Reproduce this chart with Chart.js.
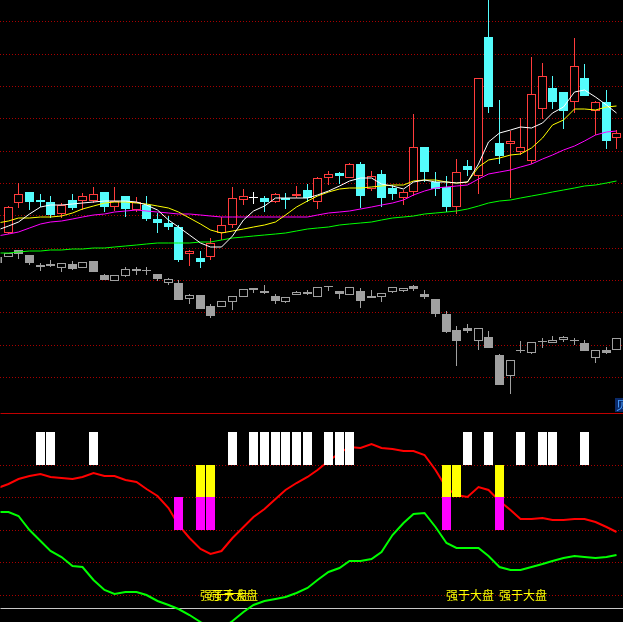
<!DOCTYPE html>
<html lang="zh">
<head>
<meta charset="UTF-8">
<title>K线 强于大盘</title>
<script src="https://cdn.jsdelivr.net/npm/chart.js@4.4.0/dist/chart.umd.min.js"></script>
<style>
  html, body { margin: 0; padding: 0; background: #000; overflow: hidden; }
  canvas { display: block; }
</style>
</head>
<body>
<canvas id="priceChart" width="623" height="413"></canvas>
<canvas id="indChart" width="623" height="209"></canvas>
<script>
// trading days, -1 is the half-visible bar at the left edge
const days = Array.from({length: 59}, (_, k) => k - 1);

// stock candles (no data for day -1)
const stockOpen  = [null, 12.67, 12.97, 13.08, 13.00, 12.98, 12.86, 13.00, 12.99, 12.99, 13.08, 12.93, 13.04, 12.90, 12.95, 12.81, 12.77, 12.73, 12.46, 12.42, 12.43, 12.67, 12.75, 13.00, 13.02, 13.02, 12.98, 13.02, 13.04, 13.10, 12.98, 13.22, 13.27, 13.22, 13.36, 13.11, 13.26, 13.12, 13.02, 13.08, 13.53, 13.18, 13.13, 12.93, 13.34, 13.24, 14.63, 13.57, 13.56, 13.48, 13.39, 13.91, 14.12, 14.08, 13.98, 14.22, 13.89, 13.98, 13.62];
const stockHigh  = [null, 12.94, 13.17, 13.08, 13.06, 13.04, 12.97, 13.06, 13.07, 13.13, 13.08, 13.13, 13.04, 13.03, 13.04, 12.87, 12.84, 12.75, 12.50, 12.49, 12.62, 12.83, 13.13, 13.11, 13.08, 13.04, 13.07, 13.07, 13.14, 13.16, 13.23, 13.29, 13.28, 13.37, 13.38, 13.29, 13.30, 13.15, 13.10, 13.86, 13.53, 13.28, 13.24, 13.41, 13.40, 14.22, 15.05, 14.00, 13.69, 13.82, 14.43, 14.37, 14.24, 14.08, 14.62, 14.36, 13.99, 14.10, 13.70];
const stockLow   = [null, 12.66, 12.92, 12.90, 12.93, 12.82, 12.82, 12.90, 12.90, 12.97, 12.88, 12.89, 12.83, 12.88, 12.79, 12.67, 12.70, 12.38, 12.34, 12.32, 12.40, 12.60, 12.72, 12.95, 12.96, 12.88, 12.97, 12.91, 13.02, 12.98, 12.91, 13.15, 13.16, 13.22, 12.92, 13.09, 12.93, 13.00, 12.95, 13.04, 13.18, 13.04, 12.88, 12.86, 13.24, 13.06, 13.87, 13.36, 13.02, 13.45, 13.36, 13.81, 13.91, 13.71, 13.87, 14.04, 13.65, 13.51, 13.51];
const stockClose = [null, 12.93, 13.06, 12.98, 12.98, 12.85, 12.95, 12.92, 13.04, 13.06, 12.93, 12.99, 12.91, 12.98, 12.81, 12.77, 12.73, 12.40, 12.49, 12.38, 12.57, 12.75, 13.02, 13.04, 13.02, 12.98, 13.06, 13.00, 13.06, 13.02, 13.22, 13.26, 13.24, 13.36, 13.04, 13.24, 13.02, 13.06, 13.08, 13.53, 13.28, 13.11, 12.93, 13.28, 13.30, 14.22, 13.93, 13.44, 13.59, 13.53, 14.06, 14.24, 13.98, 13.89, 14.34, 14.04, 13.98, 13.59, 13.67];

// market index candles (grey overlay)
const indexOpen  = [12.43, 12.43, 12.50, 12.45, 12.35, 12.36, 12.32, 12.36, 12.32, 12.39, 12.25, 12.19, 12.24, 12.31, 12.29, 12.26, 12.17, 12.17, 12.01, 12.05, 11.94, 11.93, 11.98, 12.03, 12.12, 12.09, 12.04, 11.98, 12.05, 12.08, 12.03, 12.13, 12.09, 12.05, 12.09, 12.04, 12.03, 12.08, 12.09, 12.14, 12.06, 12.01, 11.86, 11.70, 11.72, 11.59, 11.63, 11.45, 11.24, 11.49, 11.47, 11.58, 11.57, 11.60, 11.59, 11.57, 11.42, 11.50, 11.50];
const indexHigh  = [12.43, 12.47, 12.50, 12.45, 12.37, 12.40, 12.37, 12.39, 12.38, 12.39, 12.26, 12.25, 12.33, 12.33, 12.33, 12.26, 12.22, 12.20, 12.06, 12.05, 11.96, 11.99, 12.04, 12.11, 12.12, 12.15, 12.06, 12.03, 12.09, 12.10, 12.13, 12.13, 12.09, 12.13, 12.12, 12.10, 12.07, 12.13, 12.12, 12.15, 12.10, 12.01, 11.89, 11.74, 11.76, 11.72, 11.69, 11.46, 11.40, 11.59, 11.58, 11.62, 11.64, 11.64, 11.62, 11.60, 11.50, 11.53, 11.62];
const indexLow   = [12.37, 12.43, 12.41, 12.35, 12.29, 12.33, 12.28, 12.30, 12.32, 12.28, 12.20, 12.19, 12.23, 12.25, 12.25, 12.19, 12.15, 12.00, 11.96, 11.91, 11.82, 11.93, 11.90, 12.03, 12.07, 12.06, 11.96, 11.97, 12.05, 12.05, 12.03, 12.09, 12.01, 12.05, 11.92, 12.02, 11.98, 12.07, 12.08, 12.09, 12.01, 11.83, 11.67, 11.34, 11.67, 11.50, 11.52, 11.15, 11.06, 11.47, 11.46, 11.52, 11.57, 11.58, 11.55, 11.49, 11.37, 11.46, 11.50];
const indexClose = [12.37, 12.47, 12.46, 12.37, 12.33, 12.34, 12.37, 12.31, 12.38, 12.28, 12.20, 12.25, 12.31, 12.29, 12.29, 12.21, 12.21, 12.00, 12.05, 11.91, 11.84, 11.99, 12.04, 12.11, 12.10, 12.07, 11.99, 12.03, 12.08, 12.06, 12.13, 12.13, 12.06, 12.13, 11.99, 12.02, 12.07, 12.13, 12.12, 12.11, 12.03, 11.86, 11.68, 11.59, 11.69, 11.72, 11.52, 11.15, 11.40, 11.49, 11.58, 11.58, 11.60, 11.63, 11.59, 11.49, 11.50, 11.47, 11.62];

// moving averages
const ma5  = [12.70, 12.74, 12.78, 12.86, 12.93, 12.95, 12.95, 12.96, 12.97, 12.98, 12.99, 12.99, 12.99, 12.98, 12.95, 12.90, 12.80, 12.73, 12.65, 12.57, 12.53, 12.53, 12.64, 12.80, 12.89, 12.94, 13.02, 13.02, 13.02, 13.02, 13.05, 13.09, 13.14, 13.19, 13.22, 13.22, 13.16, 13.14, 13.11, 13.18, 13.20, 13.18, 13.18, 13.17, 13.18, 13.36, 13.58, 13.67, 13.70, 13.73, 13.72, 13.77, 13.87, 13.93, 14.08, 14.10, 14.03, 13.95, 13.87];
const ma10 = [12.77, 12.79, 12.82, 12.82, 12.83, 12.83, 12.84, 12.87, 12.91, 12.94, 12.97, 12.98, 12.98, 12.97, 12.96, 12.94, 12.92, 12.88, 12.82, 12.76, 12.70, 12.67, 12.69, 12.71, 12.73, 12.75, 12.78, 12.85, 12.93, 12.99, 13.04, 13.08, 13.11, 13.12, 13.12, 13.13, 13.14, 13.15, 13.15, 13.19, 13.20, 13.20, 13.18, 13.17, 13.18, 13.33, 13.40, 13.42, 13.45, 13.46, 13.52, 13.62, 13.75, 13.80, 13.91, 13.91, 13.90, 13.93, 13.94];
const ma20 = [12.64, 12.66, 12.68, 12.72, 12.76, 12.78, 12.79, 12.81, 12.83, 12.85, 12.86, 12.88, 12.89, 12.90, 12.89, 12.88, 12.87, 12.86, 12.86, 12.85, 12.84, 12.83, 12.83, 12.83, 12.83, 12.83, 12.83, 12.83, 12.83, 12.83, 12.85, 12.87, 12.88, 12.89, 12.91, 12.93, 12.95, 12.97, 13.00, 13.05, 13.09, 13.12, 13.13, 13.14, 13.15, 13.21, 13.26, 13.28, 13.30, 13.33, 13.36, 13.41, 13.45, 13.50, 13.54, 13.59, 13.65, 13.68, 13.69];
const ma60 = [12.47, 12.47, 12.48, 12.49, 12.49, 12.50, 12.50, 12.51, 12.51, 12.52, 12.52, 12.53, 12.54, 12.55, 12.56, 12.57, 12.57, 12.57, 12.57, 12.58, 12.58, 12.60, 12.62, 12.63, 12.64, 12.65, 12.66, 12.67, 12.69, 12.71, 12.72, 12.73, 12.75, 12.76, 12.77, 12.78, 12.80, 12.82, 12.83, 12.84, 12.86, 12.87, 12.88, 12.89, 12.91, 12.94, 12.97, 12.99, 13.00, 13.02, 13.04, 13.06, 13.08, 13.10, 13.12, 13.14, 13.15, 13.17, 13.19];

// indicator panel
const relLine   = [85.8, 88.3, 91.4, 93.2, 94.5, 92.6, 92.0, 91.4, 92.6, 95.1, 93.2, 93.2, 90.8, 89.5, 85.2, 80.9, 73.5, 63.1, 55.1, 48.3, 45.2, 47.1, 55.1, 61.8, 68.0, 72.9, 79.1, 84.6, 88.9, 92.6, 96.9, 102.5, 107.4, 111.1, 110.5, 112.9, 110.5, 109.8, 108.6, 108.6, 106.2, 96.9, 85.8, 81.5, 80.3, 86.5, 84.6, 77.8, 72.3, 66.8, 66.8, 67.4, 66.2, 66.2, 66.8, 66.8, 64.9, 61.8, 58.8];
const trendLine = [71.1, 71.1, 68.6, 60.0, 53.2, 47.1, 43.4, 38.0, 37.2, 29.2, 23.1, 20.6, 21.8, 21.8, 20.0, 16.3, 13.8, 11.4, 7.7, 3.4, -0.3, -0.9, 4.0, 9.5, 13.8, 16.3, 17.5, 18.8, 21.2, 24.3, 29.2, 34.2, 36.6, 40.9, 40.9, 42.2, 46.5, 56.9, 64.3, 70.0, 70.5, 61.8, 52.0, 48.9, 48.9, 48.9, 44.0, 37.2, 35.4, 35.4, 37.2, 39.1, 40.9, 42.8, 44.0, 43.4, 42.8, 43.4, 44.6];
const whiteBarDays   = [3, 4, 8, 21, 23, 24, 25, 26, 27, 28, 30, 31, 32, 43, 45, 48, 50, 51, 54];
const yellowBarDays  = [18, 19, 41, 42, 46];
const magentaBarDays = [16, 18, 19, 41, 46];
const textDays       = [18, 19, 41, 46];
const whiteBand = [100, 120], yellowBand = [80, 100], magentaBand = [60, 80];
const labelText = '强于大盘', labelLevel = 20, refLevel = 12;

// grid levels
const priceGrid = [14.79, 14.46, 14.14, 13.82, 13.49, 13.17, 12.85, 12.52, 12.20, 11.88, 11.55, 11.23];
const indGrid = [100, 80, 60, 40, 20];

const GRID_RED = '#a80000';
const xScale = { type: 'linear', min: -0.702, max: 57.61, display: false, offset: false, alignToPixels: true };

function yScale(min, max, grid) {
    return {
        min: min, max: max, alignToPixels: true,
        ticks: { display: false },
        grid: { color: GRID_RED, drawTicks: false, lineWidth: 1 },
        border: { display: false, dash: [1, 2] },
        afterBuildTicks: s => { s.ticks = grid.map(v => ({ value: v })); }
    };
}

// body + wick as two floating bar datasets
function candleSets(o, h, l, c, upCol, downCol, flatCol, order) {
    const body = [], wick = [], fill = [], line = [], wickCol = [];
    days.forEach((d, k) => {
        if (o[k] == null) return;
        const col = c[k] > o[k] ? upCol : (c[k] < o[k] ? downCol : flatCol);
        body.push({ x: d, y: [Math.min(o[k], c[k]), Math.max(o[k], c[k])] });
        wick.push({ x: d, y: [l[k], h[k]] });
        fill.push(c[k] > o[k] ? '#000' : col);
        line.push(col);
        wickCol.push(col);
    });
    return [
        { type: 'bar', data: body, backgroundColor: fill, borderColor: line, borderWidth: 1, inflateAmount: 0,
          borderSkipped: false, barThickness: 9, minBarLength: 1, grouped: false, order: order },
        { type: 'bar', data: wick, backgroundColor: wickCol, borderWidth: 0, inflateAmount: 0,
          barThickness: 1, minBarLength: 1, grouped: false, order: order + 1 }
    ];
}

function lineSet(values, color, width, order) {
    return { type: 'line', data: days.map((d, k) => ({ x: d, y: values[k] })),
             borderColor: color, borderWidth: width, pointRadius: 0, tension: 0, order: order };
}

function bandSet(list, band, color) {
    return { type: 'bar', data: list.map(d => ({ x: d, y: band })), backgroundColor: color,
             borderWidth: 0, inflateAmount: 0, barThickness: 9, grouped: false, order: 0 };
}

// bar centres land on whole pixels; nudge half a pixel so 9px bodies and 1px wicks are crisp
const halfPixel = {
    id: 'halfPixel',
    beforeDatasetsDraw(chart) { chart.ctx.save(); chart.ctx.translate(0.5, 0); },
    afterDatasetsDraw(chart) { chart.ctx.restore(); }
};

const baseOpts = {
    responsive: false, animation: false, devicePixelRatio: 1,
    layout: { padding: 0 },
    plugins: { legend: { display: false }, tooltip: { enabled: false } }
};

// cut-off blue mark at bottom right of the price panel
const cornerMark = {
    id: 'cornerMark',
    afterDraw(chart) {
        const ctx = chart.ctx;
        ctx.save();
        ctx.fillStyle = '#0a2a6a';
        ctx.fillRect(615, 398, 8, 14);
        ctx.fillStyle = '#4aa0ff';
        ctx.font = '12px "Noto Sans CJK SC"';
        ctx.textBaseline = 'middle';
        ctx.fillText('贝', 616, 405);
        ctx.restore();
    }
};

new Chart(document.getElementById('priceChart'), {
    type: 'bar',
    data: {
        datasets: [
            lineSet(ma5, '#ffffff', 1, 0),
            lineSet(ma10, '#ffff00', 1, 0),
            lineSet(ma20, '#ff00ff', 1, 0),
            lineSet(ma60, '#00ff00', 1, 0),
            ...candleSets(stockOpen, stockHigh, stockLow, stockClose, '#ff3c3c', '#54fcfc', '#ffffff', 2),
            ...candleSets(indexOpen, indexHigh, indexLow, indexClose, '#a0a0a0', '#a0a0a0', '#a0a0a0', 4)
        ]
    },
    options: { ...baseOpts, scales: { x: xScale, y: yScale(10.87, 15.0, priceGrid) } },
    plugins: [halfPixel, cornerMark]
});

// separator + reference line, then the yellow labels
const indDecor = {
    id: 'indDecor',
    beforeDatasetsDraw(chart) {
        const { ctx, chartArea, scales: { y } } = chart;
        ctx.save();
        ctx.lineWidth = 1;
        ctx.strokeStyle = '#c00000';
        ctx.beginPath(); ctx.moveTo(0, chartArea.top + 0.5); ctx.lineTo(chartArea.right, chartArea.top + 0.5); ctx.stroke();
        const ry = Math.round(y.getPixelForValue(refLevel)) + 0.5;
        ctx.strokeStyle = '#c8c8c8';
        ctx.beginPath(); ctx.moveTo(0, ry); ctx.lineTo(chartArea.right, ry); ctx.stroke();
        ctx.restore();
    },
    afterDatasetsDraw(chart) {
        const { ctx, scales: { x, y } } = chart;
        ctx.save();
        ctx.font = '12px "Noto Sans CJK SC"';
        ctx.fillStyle = '#ffff00';
        ctx.textAlign = 'left';
        ctx.textBaseline = 'middle';
        textDays.forEach(d => ctx.fillText(labelText, x.getPixelForValue(d), y.getPixelForValue(labelLevel)));
        ctx.restore();
    }
};

new Chart(document.getElementById('indChart'), {
    type: 'bar',
    data: {
        datasets: [
            bandSet(whiteBarDays, whiteBand, '#ffffff'),
            bandSet(yellowBarDays, yellowBand, '#ffff00'),
            bandSet(magentaBarDays, magentaBand, '#ff00ff'),
            lineSet(relLine, '#ff0000', 2, 1),
            lineSet(trendLine, '#00ff00', 2, 1)
        ]
    },
    options: { ...baseOpts, scales: { x: xScale, y: yScale(3.38, 132, indGrid) } },
    plugins: [halfPixel, indDecor]
});
</script>
</body>
</html>
